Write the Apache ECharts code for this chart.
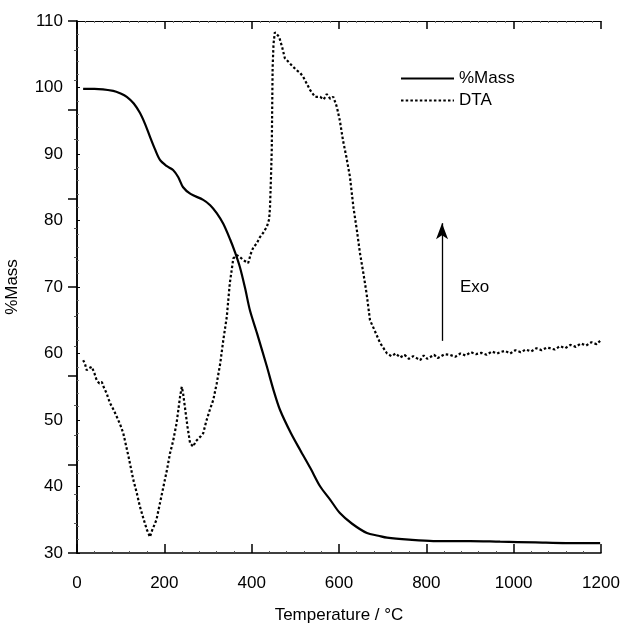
<!DOCTYPE html>
<html><head><meta charset="utf-8">
<script src="https://cdn.jsdelivr.net/npm/echarts@6/dist/echarts.min.js"></script>
<style>html,body{margin:0;padding:0;background:#fff}#c{width:622px;height:625px}</style>
</head><body><div id="c"></div>
<script>
var massT = [14,40,83,100,114,130,144,156,167,178,190,205,220,232,243,260,289,305,320,335,351,362,373,385,396,412,435,450,465,490,511,535,557,580,602,630,664,690,710,760,816,900,969,1050,1120,1198];
var massV = [99.8,99.8,99.5,99.1,98.6,97.6,96.2,94.5,92.6,90.8,89.1,88.2,87.6,86.5,85.0,84.0,83.1,82.3,81.1,79.5,77.1,75.2,73.0,69.8,66.5,63.1,58.0,54.5,51.5,48.0,45.5,42.7,40.0,38.0,36.0,34.4,33.0,32.6,32.3,32.0,31.8,31.8,31.7,31.6,31.5,31.5];
var dtaT = [14,18,22,28,34,40,45,51,57,62,68,72,76,84,91,99,106,118,129,137,144,152,160,164,167,172,177,182,190,198,206,213,220,228,232,236,240,243,247,253,259,262,266,272,278,284,289,296,304,312,320,328,335,343,350,358,366,373,382,392,398,404,411,419,427,435,440,442,444,446,447,448,450,453,458,463,470,476,485,495,505,511,518,526,534,545,557,565,572,580,587,595,602,609,617,625,633,641,648,656,663,671,678,686,694,702,710,720,730,740,750,760,770,778,786,794,802,810,818,826,834,842,854,866,878,890,902,914,926,938,950,962,969,980,992,1004,1016,1028,1040,1052,1064,1076,1083,1094,1106,1118,1130,1142,1154,1166,1178,1190,1198];
var dtaV = [59.0,58.5,57.5,57.8,58.0,57.0,56.0,55.5,55.7,54.8,54.0,53.2,52.5,51.5,50.5,49.3,48.0,44.5,41.0,39.0,37.0,35.2,33.5,32.9,32.4,33.4,34.2,35.0,37.5,40.0,42.5,45.0,46.8,49.5,51.5,53.5,55.0,54.0,52.0,49.0,46.5,46.3,46.0,46.8,47.2,47.6,48.0,49.8,51.5,53.0,55.5,58.5,62.0,65.5,70.6,74.3,74.8,74.5,74.0,73.6,75.0,76.0,76.5,77.5,78.2,79.1,80.2,82.0,86.0,90.6,97.0,103.0,106.5,108.3,108.0,107.6,106.0,104.4,103.8,103.1,102.5,102.2,101.6,100.6,99.6,98.6,98.6,98.2,99.0,98.3,98.6,97.1,95.0,92.1,89.5,86.6,82.0,78.5,75.1,72.0,69.1,65.0,64.0,62.8,61.6,60.8,60.0,59.6,60.0,59.4,59.8,59.2,59.6,59.3,59.0,59.7,59.2,59.5,59.8,59.3,59.6,59.9,59.8,59.5,60.0,59.7,60.2,59.9,60.1,59.8,60.3,60.0,60.2,60.4,60.0,60.5,60.2,60.6,60.3,60.8,60.5,60.9,60.8,60.6,61.1,60.8,61.3,61.0,61.5,61.2,61.7,61.4,61.9,61.6];
var xTicks = [0,200,400,600,800,1000,1200];
var yTicks = [30,40,50,60,70,80,90,100,110];

function pairs(t,v){return t.map(function(x,i){return [x,v[i]];});}
var F = 'Liberation Sans, Arial, sans-serif';
var chart = echarts.init(document.getElementById('c'));
chart.setOption({
  animation:false,
  backgroundColor:'#fff',
  grid:{left:77,top:21,right:21,bottom:72,show:false,containLabel:false,outerBoundsMode:'none'},
  legend:{orient:'vertical',left:395,top:65,itemWidth:53,itemHeight:14,itemGap:5,
    itemStyle:{color:'rgba(0,0,0,0)',borderColor:'rgba(0,0,0,0)',borderWidth:0,opacity:0},
    textStyle:{fontFamily:F,fontSize:17,color:'#000'},
    data:['%Mass','DTA']},
  xAxis:[{type:'value',min:0,max:1200,interval:200,position:'bottom',
      axisLine:{lineStyle:{color:'#000',width:1.5}},
      axisTick:{inside:true,length:9,lineStyle:{color:'#000',width:1.5}},
      minorTick:{show:true,splitNumber:5,length:2,lineStyle:{color:'#555'}},
      axisLabel:{fontFamily:F,fontSize:17,color:'#000',margin:22,
        formatter:function(v){return xTicks.indexOf(v)>=0?String(v):'';}},
      splitLine:{show:false},
      name:'Temperature / °C',nameLocation:'middle',nameGap:54,
      nameTextStyle:{fontFamily:F,fontSize:17,color:'#000'}},
    {type:'value',min:0,max:1200,interval:200,position:'top',
      axisLine:{lineStyle:{color:'#000',width:1}},
      axisTick:{inside:true,length:8,lineStyle:{color:'#000',width:1.5}},
      minorTick:{show:true,splitNumber:10,length:2,lineStyle:{color:'#777'}},
      axisLabel:{show:false},splitLine:{show:false}}],
  yAxis:[{type:'value',min:30,max:110,interval:10,position:'left',
      axisLine:{show:true,lineStyle:{color:'#000',width:1.5}},
      axisTick:{show:true,inside:true,length:3,lineStyle:{color:'#000'}},
      minorTick:{show:true,splitNumber:5,length:2,lineStyle:{color:'#777'}},
      axisLabel:{fontFamily:F,fontSize:17,color:'#000',margin:14,
        formatter:function(v){return yTicks.indexOf(v)>=0?String(v):'';}},
      splitLine:{show:false},
      name:'%Mass',nameLocation:'middle',nameGap:56,
      nameTextStyle:{fontFamily:F,fontSize:17,color:'#000'}},
    {type:'value',min:0,max:6,interval:1,position:'right',
      axisLine:{show:true,lineStyle:{color:'#000',width:1.5}},
      axisTick:{show:true,inside:true,length:9,lineStyle:{color:'#000',width:1.5}},
      minorTick:{show:true,splitNumber:3,length:3,lineStyle:{color:'#555'}},
      axisLabel:{show:false},splitLine:{show:false}}],
  graphic:[{type:'text',left:460,top:279,style:{text:'Exo',font:'17px '+F,fill:'#000'}}],
  series:[
    {name:'%Mass',type:'line',data:pairs(massT,massV),showSymbol:false,symbol:'none',smooth:0.3,
      lineStyle:{color:'#000',width:2.2},itemStyle:{color:'#000'}},
    {name:'DTA',type:'line',data:pairs(dtaT,dtaV),showSymbol:false,symbol:'none',
      lineStyle:{color:'#000',width:2.2,type:[2.5,2.2]},itemStyle:{color:'#000'},
      markLine:{silent:true,symbol:['none','arrow'],symbolSize:[9,16],
        lineStyle:{color:'#000',width:1.3,type:'solid'},label:{show:false},
        data:[[{coord:[836,61.9]},{coord:[836,79.6]}]]}}
  ]
});
</script></body></html>
